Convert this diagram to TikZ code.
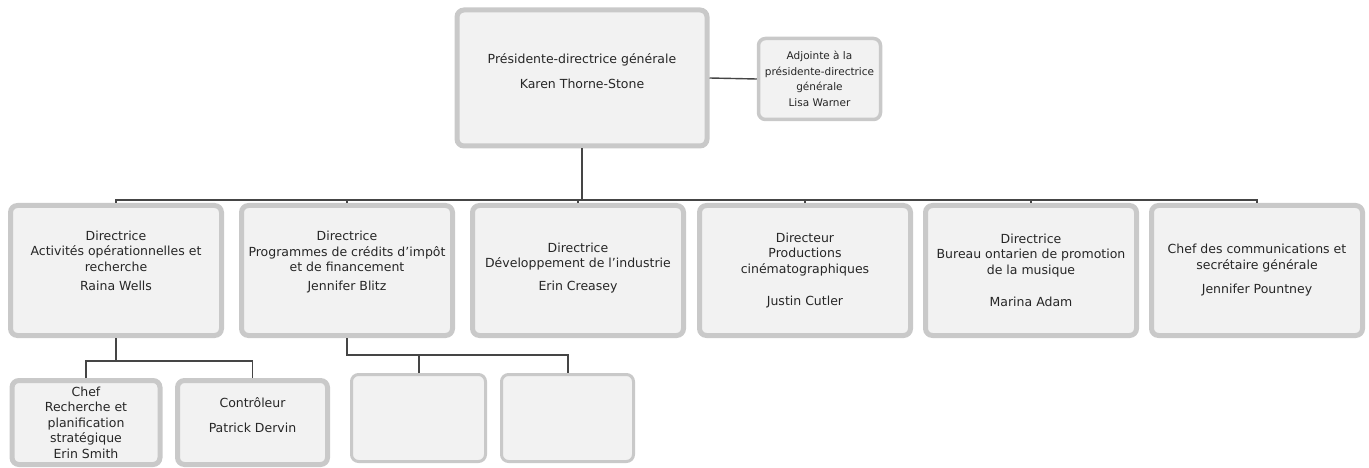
\documentclass[tikz,border=0pt]{standalone}
\usepackage{fontspec}
\setmainfont{DejaVu Sans}
\definecolor{boxfill}{HTML}{F2F2F2}
\definecolor{boxline}{HTML}{C9C9C9}
\definecolor{linkgray}{HTML}{454545}
\definecolor{textgray}{HTML}{262626}
\tikzset{
  poste/.style={draw=boxline, fill=boxfill, line width=5pt, rounded corners=7pt,
    align=center, text=textgray, inner sep=2pt, font=\fontsize{12.5}{15.5}\selectfont},
  directeur/.style={poste, minimum width=211pt, minimum height=130pt},
  petit/.style={poste, line width=3pt},
  lien/.style={draw=linkgray, line width=1.4pt},
}
\begin{document}
\begin{tikzpicture}[x=1pt,y=-1pt]
            \useasboundingbox (0,0) rectangle (1369,468);
            \node[poste, minimum width=250pt, minimum height=136pt] (pdg) at (582,78)
                {Présidente-directrice générale\\[9pt]Karen Thorne-Stone\\[-2pt]};
            \node[petit, line width=3.5pt, minimum width=122pt, minimum height=81pt,
                font=\fontsize{10.5}{15.5}\selectfont] (adjointe) at (819.5,79)
                {Adjointe à la\\présidente-directrice\\générale\\Lisa Warner};
            \node[directeur] (ops) at (116,270.5)
                {Directrice\\Activités opérationnelles et\\recherche\\[4pt]Raina Wells\\[4pt]};
            \node[directeur] (credits) at (347,270.5)
                {Directrice\\Programmes de crédits d'impôt\\et de financement\\[3pt]Jennifer Blitz\\[4pt]};
            \node[directeur] (industrie) at (578,270.5)
                {Directrice\\Développement de l'industrie\\[7pt]Erin Creasey\\[-7.5pt]};
            \node[directeur] (cinema) at (805,270.5)
                {Directeur\\Productions\\cinématographiques\\[17pt]Justin Cutler};
            \node[directeur] (musique) at (1031,270.5)
                {Directrice\\Bureau ontarien de promotion\\de la musique\\[17pt]Marina Adam};
            \node[directeur] (comm) at (1257,270.5)
                {Chef des communications et\\secrétaire générale\\[9pt]Jennifer Pountney};
            \node[poste, minimum width=148pt, minimum height=84pt] (recherche) at (86,422.5)
                {Chef\\Recherche et\\planification\\stratégique\\Erin Smith};
            \node[poste, minimum width=150pt, minimum height=84pt] (controleur) at (252.5,422.5)
                {Contrôleur\\[9pt]Patrick Dervin\\[0pt]};
            \node[petit, minimum width=134pt, minimum height=87pt] (vide1) at (418.5,418) {};
            \node[petit, minimum width=132pt, minimum height=87pt] (vide2) at (567.5,418) {};
            \coordinate (bus) at (582,200);
            \coordinate (busops) at (116,361);
            \coordinate (buscredits) at (347,355);
            \draw[lien] (pdg.east) -- (adjointe.west);
            \draw[lien, line width=2.8pt] (pdg.south) -- (bus);
            \draw[lien] (ops.north) |- (bus) -| (comm.north);
            \foreach \n in {credits,industrie,cinema,musique}
                \draw[lien] (\n.north) -- (\n.north |- bus);
            \draw[lien, line width=2.4pt] (ops.south) -- (busops);
            \draw[lien] (recherche.north) |- (busops) -| (controleur.north);
            \draw[lien, line width=2pt] (credits.south) -- (buscredits) -| (vide2.north);
            \draw[lien, line width=2pt] (vide1.north) -- (vide1.north |- buscredits);
        \end{tikzpicture}
\end{document}
